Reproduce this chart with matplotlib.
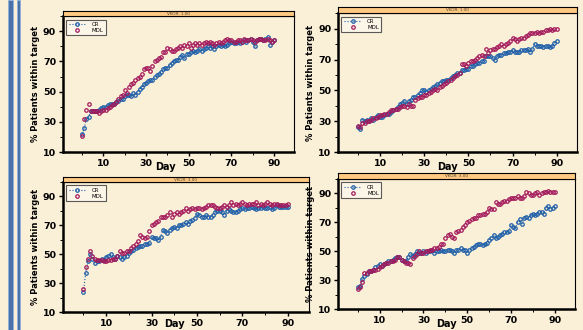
import numpy as np
import matplotlib.pyplot as plt
from matplotlib.patches import Rectangle
from matplotlib.ticker import MultipleLocator

# % patients within target by day
cr_vk1_a = [22, 26, 32, 33, 37, 37, 37, 37, 38, 39,
            40, 40, 41, 42, 42, 42, 43, 44, 45, 45,
            47, 48, 48, 47, 49, 48, 50, 52, 53, 55,
            56, 57, 58, 58, 60, 61, 62, 63, 65, 66,
            66, 68, 69, 70, 71, 71, 73, 74, 72, 75,
            75, 76, 77, 76, 77, 78, 77, 78, 79, 80,
            79, 80, 78, 80, 81, 80, 81, 80, 81, 82,
            83, 82, 82, 83, 82, 83, 84, 83, 84, 85,
            83, 80, 84, 85, 85, 84, 85, 86, 81, 83, 84]
mdl_vk1_a = [21, 32, 38, 42, 37, 37, 37, 37, 36, 37,
             38, 38, 39, 40, 41, 42, 43, 45, 47, 48,
             51, 49, 53, 55, 56, 58, 59, 60, 62, 65,
             66, 66, 64, 67, 70, 71, 72, 73, 76, 76,
             79, 78, 77, 77, 78, 79, 80, 79, 81, 80,
             82, 79, 81, 82, 81, 82, 81, 82, 83, 82,
             83, 82, 81, 82, 83, 82, 83, 84, 85, 84,
             84, 83, 83, 84, 84, 83, 85, 84, 84, 85,
             84, 83, 84, 85, 85, 84, 84, 85, 84, 83, 84]

cr_vk1_b = [26, 25, 31, 30, 31, 30, 32, 31, 33, 34,
            33, 33, 34, 35, 35, 36, 37, 38, 39, 41,
            42, 43, 41, 43, 44, 46, 46, 47, 48, 50,
            50, 49, 50, 51, 52, 53, 54, 55, 56, 56,
            57, 57, 58, 59, 60, 61, 61, 63, 63, 64,
            64, 66, 66, 67, 68, 68, 69, 69, 72, 72,
            72, 71, 70, 72, 73, 73, 74, 74, 75, 75,
            76, 75, 75, 75, 76, 76, 76, 77, 75, 77,
            80, 79, 79, 79, 78, 79, 79, 78, 79, 81, 82]
mdl_vk1_b = [27, 26, 29, 29, 30, 30, 31, 32, 32, 33,
             34, 34, 35, 35, 36, 37, 37, 38, 38, 39,
             40, 40, 39, 41, 40, 40, 44, 45, 46, 46,
             47, 47, 48, 49, 50, 51, 50, 52, 53, 54,
             55, 56, 57, 58, 59, 60, 61, 67, 67, 66,
             68, 69, 69, 70, 71, 72, 73, 72, 77, 74,
             76, 77, 77, 78, 79, 80, 79, 80, 81, 82,
             84, 83, 82, 83, 84, 84, 85, 86, 87, 87,
             87, 88, 87, 88, 88, 89, 89, 90, 89, 90, 90]

cr_vk3_a = [24, 37, 45, 50, 47, 44, 45, 45, 47, 46,
            48, 49, 50, 48, 47, 49, 48, 47, 48, 49,
            51, 52, 53, 54, 55, 56, 56, 57, 57, 58,
            62, 61, 61, 60, 62, 67, 66, 65, 67, 68,
            69, 68, 70, 70, 71, 72, 71, 73, 74, 75,
            78, 77, 76, 76, 77, 76, 76, 77, 79, 80,
            80, 79, 77, 80, 81, 80, 79, 79, 80, 81,
            82, 81, 82, 82, 83, 82, 81, 82, 82, 83,
            82, 82, 83, 81, 82, 84, 83, 83, 83, 83, 83]
mdl_vk3_a = [26, 41, 47, 52, 49, 47, 46, 46, 46, 45,
             45, 46, 46, 47, 47, 49, 52, 51, 51, 52,
             52, 54, 56, 57, 59, 63, 62, 61, 62, 66,
             70, 71, 72, 73, 76, 76, 76, 77, 79, 76,
             78, 79, 78, 79, 80, 82, 80, 81, 82, 81,
             82, 82, 81, 82, 83, 84, 84, 84, 83, 82,
             82, 83, 84, 83, 84, 86, 84, 85, 84, 85,
             86, 85, 84, 85, 85, 85, 86, 84, 85, 84,
             85, 86, 85, 84, 85, 85, 84, 84, 84, 84, 85]

cr_vk3_b = [25, 26, 31, 33, 34, 36, 36, 37, 39, 40,
            41, 40, 41, 42, 43, 43, 44, 45, 46, 46,
            44, 43, 43, 46, 48, 47, 48, 50, 49, 49,
            50, 49, 50, 50, 51, 49, 50, 50, 51, 50,
            50, 51, 51, 50, 49, 51, 51, 52, 51, 51,
            49, 51, 52, 53, 54, 55, 55, 54, 55, 56,
            58, 59, 61, 59, 60, 61, 62, 63, 63, 64,
            68, 67, 66, 70, 72, 69, 73, 74, 73, 75,
            76, 75, 76, 77, 77, 76, 80, 81, 79, 80, 81]
mdl_vk3_b = [24, 25, 29, 35, 35, 36, 36, 37, 37, 38,
             39, 40, 41, 42, 42, 43, 43, 44, 46, 46,
             44, 43, 42, 42, 41, 45, 47, 48, 50, 49,
             49, 50, 50, 51, 51, 52, 52, 53, 55, 55,
             59, 61, 62, 60, 59, 63, 64, 65, 67, 68,
             70, 71, 72, 73, 73, 75, 75, 76, 76, 77,
             80, 79, 79, 84, 83, 83, 84, 85, 85, 86,
             87, 87, 87, 88, 87, 87, 88, 91, 90, 89,
             89, 90, 91, 89, 90, 91, 91, 92, 91, 91, 91]

strip_titles = ["VKOR: 1.00", "VKOR: 1.00", "VKOR: 3.00", "VKOR: 3.00"]
panels = [(cr_vk1_a, mdl_vk1_a), (cr_vk1_b, mdl_vk1_b),
          (cr_vk3_a, mdl_vk3_a), (cr_vk3_b, mdl_vk3_b)]

bg = '#faefd7'
blue = '#1f5fa8'
red = '#a3195b'

# [left, bottom, width, height] of plot area, strip height, "Day" label position
boxes = [(0.108, 0.539, 0.396, 0.412, 0.015, (0.446, -0.07)),
         (0.580, 0.539, 0.410, 0.421, 0.018, (0.456, -0.07)),
         (0.108, 0.0545, 0.422, 0.394, 0.015, (0.455, -0.055)),
         (0.580, 0.0636, 0.4065, 0.394, 0.018, (0.456, -0.075))]

fig = plt.figure(figsize=(5.83, 3.30), dpi=100, facecolor=bg)

# blue bars down the left edge of the slide
fig.patches.append(Rectangle((8/583, 0), 5/583, 1, transform=fig.transFigure,
                             facecolor='#4a72aa', edgecolor='#8fb0d8', lw=0.6))
fig.patches.append(Rectangle((17/583, 0), 3/583, 1, transform=fig.transFigure,
                             facecolor='#4a72aa', edgecolor='#8fb0d8', lw=0.6))

for (cr, mdl), title, (x0, y0, w, h, sh, dpos) in zip(panels, strip_titles, boxes):
    ax = fig.add_axes([x0, y0, w, h])
    ax.set_facecolor('none')
    days = np.arange(len(cr))
    ax.plot(days, cr, ls=':', lw=0.8, color=blue, marker='o', ms=2.5,
            mfc='none', mew=0.9, label='CR')
    ax.plot(np.arange(len(mdl)), mdl, ls='none', color=red, marker='o', ms=2.5,
            mfc='none', mew=0.9, label='MDL')
    ax.set_xlim(-9, 99.3)
    ax.set_ylim(10, 100)
    ax.set_xticks([10, 30, 50, 70, 90])
    ax.set_yticks([10, 30, 50, 70, 90])
    ax.xaxis.set_minor_locator(MultipleLocator(10))
    ax.yaxis.set_minor_locator(MultipleLocator(10))
    ax.tick_params(which='major', length=3, width=1, labelsize=6.8, pad=2)
    ax.tick_params(which='minor', length=2, width=0.7)
    for lab in ax.get_xticklabels() + ax.get_yticklabels():
        lab.set_fontweight('bold')
    ax.spines['left'].set_linewidth(1.8)
    ax.spines['bottom'].set_linewidth(1.8)
    ax.spines['top'].set_linewidth(0.8)
    ax.spines['right'].set_linewidth(0.8)
    ax.set_xlabel('Day', fontsize=7, fontweight='bold', va='top')
    ax.xaxis.set_label_coords(dpos[0], dpos[1])
    ax.set_ylabel('% Patients within target', fontsize=6, fontweight='bold', labelpad=2)
    leg = ax.legend(loc='upper left', fontsize=4, frameon=True, fancybox=False,
                    borderpad=0.4, handlelength=3.2, labelspacing=0.2,
                    borderaxespad=0.6, handletextpad=1.0)
    leg.get_frame().set_edgecolor('#333333')
    leg.get_frame().set_linewidth(0.8)
    leg.get_frame().set_facecolor('#fdf8ee')

    sax = fig.add_axes([x0, y0 + h, w, sh])
    sax.set_facecolor('#ffc982')
    sax.set_xticks([])
    sax.set_yticks([])
    for s in sax.spines.values():
        s.set_linewidth(0.8)
    sax.text(0.5, 0.5, title, transform=sax.transAxes, ha='center', va='center',
             fontsize=3, color='#4a3a2a')

fig.savefig('out.png', dpi=100, facecolor=bg)
